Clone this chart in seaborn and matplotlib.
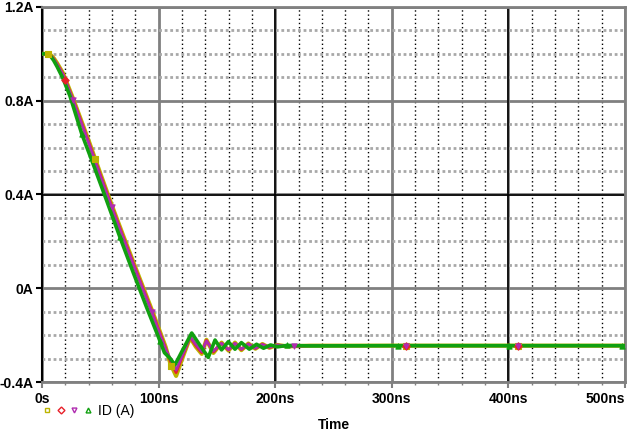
import numpy as np
import pandas as pd
import matplotlib
matplotlib.use("Agg")
import matplotlib.pyplot as plt
from matplotlib.lines import Line2D
from matplotlib.legend_handler import HandlerTuple
from matplotlib.ticker import MultipleLocator, FuncFormatter
import seaborn as sns

t_common = [0, 4, 7, 10, 13, 18, 26.6, 40, 50, 59.8, 70, 80, 94, 100, 106, 110, 115, 121,
            127, 132, 137, 141, 147, 154, 160, 165.5, 171, 177, 183, 189, 195, 202, 210,
            230, 300, 400, 500]
id_yellow = [1.0, 1.0, 0.997, 0.982, 0.96, 0.918, 0.81, 0.63, 0.49, 0.355, 0.22, 0.09, -0.09,
             -0.17, -0.25, -0.32, -0.374, -0.29, -0.21, -0.25, -0.28, -0.22, -0.276, -0.232,
             -0.266, -0.232, -0.264, -0.236, -0.258, -0.238, -0.254, -0.242, -0.248, -0.245,
             -0.245, -0.245, -0.245]
id_red = [1.0, 1.0, 0.996, 0.98, 0.957, 0.915, 0.806, 0.625, 0.485, 0.35, 0.215, 0.085, -0.095,
          -0.175, -0.255, -0.31, -0.36, -0.285, -0.208, -0.245, -0.275, -0.222, -0.272, -0.234,
          -0.264, -0.234, -0.262, -0.237, -0.257, -0.239, -0.253, -0.242, -0.248, -0.245,
          -0.245, -0.245, -0.245]
id_magenta = [1.0, 1.0, 0.995, 0.978, 0.955, 0.912, 0.803, 0.62, 0.48, 0.345, 0.21, 0.08, -0.10,
              -0.18, -0.26, -0.30, -0.349, -0.28, -0.206, -0.24, -0.27, -0.225, -0.268, -0.235,
              -0.262, -0.235, -0.26, -0.238, -0.256, -0.24, -0.252, -0.242, -0.248, -0.245,
              -0.245, -0.245, -0.245]
t_green = [0, 4, 7, 10, 13, 18, 24, 34, 45, 55, 66.9, 78, 90, 100, 105, 110, 114, 121, 128.4,
           135, 142.6, 148.4, 154, 159.8, 165.5, 171, 177.8, 184, 190, 196, 202, 210, 230,
           300, 400, 500]
id_green = [1.0, 1.0, 0.993, 0.972, 0.945, 0.895, 0.82, 0.66, 0.515, 0.38, 0.217, 0.07, -0.085,
            -0.21, -0.275, -0.30, -0.327, -0.26, -0.191, -0.24, -0.295, -0.221, -0.263, -0.228,
            -0.26, -0.232, -0.26, -0.239, -0.256, -0.242, -0.25, -0.244, -0.246, -0.245,
            -0.245, -0.245]

# positions des marqueurs (ns)
mk_yellow = [5, 45.5, 111, 312, 408.5]
mk_red = [20, 312.5, 408.5]
mk_magenta = [26.6, 59.8, 94, 216, 312, 408]
mk_green = [34, 66.9, 101, 210, 305.6, 400.8, 497]

series = [
    ("yellow", t_common, id_yellow, mk_yellow, "#bcb400", "s", 3.0),
    ("red", t_common, id_red, mk_red, "#e8202a", "D", 2.0),
    ("magenta", t_common, id_magenta, mk_magenta, "#b02cb0", "v", 2.0),
    ("green", t_green, id_green, mk_green, "#10a010", "^", 2.6),
]

fig = plt.figure(figsize=(6.29, 4.33), dpi=100)
ax = fig.add_axes([42 / 629, 1 - 382 / 433, 583 / 629, 375 / 433])

for name, t, v, mk, col, m, lw in series:
    df = pd.DataFrame({"t": t, "v": v})
    sns.lineplot(data=df, x="t", y="v", ax=ax, color=col, linewidth=lw,
                 estimator=None, sort=False, zorder=3)
    dm = pd.DataFrame({"t": mk, "v": np.interp(mk, t, v)})
    sns.scatterplot(data=dm, x="t", y="v", ax=ax, color=col, marker=m, s=14,
                    edgecolor=col, linewidth=0.8, zorder=4)

ax.set_xlim(0, 500)
ax.set_ylim(-0.4, 1.2)
ax.xaxis.set_major_locator(MultipleLocator(100))
ax.xaxis.set_minor_locator(MultipleLocator(20))
ax.yaxis.set_major_locator(MultipleLocator(0.4))
ax.yaxis.set_minor_locator(MultipleLocator(0.1))
ax.xaxis.set_major_formatter(FuncFormatter(lambda x, p: "0s" if abs(x) < 1e-9 else f"{int(round(x))}ns"))
ax.yaxis.set_major_formatter(FuncFormatter(lambda y, p: "0A" if abs(y) < 1e-9 else f"{y:.1f}A"))

# grille façon PSpice
ax.xaxis.grid(True, which="minor", color="black", linestyle=(0, (1, 2)), linewidth=1)
ax.yaxis.grid(True, which="minor", color="#a8a8a8", linestyle=(0, (1, 1)), linewidth=2)
ax.xaxis.grid(True, which="major", color="#808080", linewidth=2)
ax.yaxis.grid(True, which="major", color="#808080", linewidth=2)
ax.set_axisbelow(True)
for x in (200, 400):
    ax.axvline(x, color="black", linewidth=1.2, zorder=1)
ax.axhline(0.4, color="black", linewidth=1.2, zorder=1)

for s in ("top", "right", "bottom"):
    ax.spines[s].set_color("#808080")
    ax.spines[s].set_linewidth(2)
ax.spines["left"].set_color("black")
ax.spines["left"].set_linewidth(1.5)

font = {"family": "Liberation Sans", "weight": "bold", "size": 10}
ax.tick_params(axis="x", which="major", length=4, width=1.5, color="#808080", pad=3)
ax.tick_params(axis="x", which="minor", length=2.5, width=1, color="#808080")
ax.tick_params(axis="y", which="major", length=4, width=1.5, color="black", pad=2)
ax.tick_params(axis="y", which="minor", length=0)
fig.canvas.draw()
for lab in ax.get_xticklabels() + ax.get_yticklabels():
    lab.set_fontfamily("Liberation Sans")
    lab.set_fontweight("bold")
    lab.set_fontsize(10)
for tick in ax.xaxis.get_major_ticks():
    if abs(tick.get_loc() - 500) < 1e-6:
        tick.label1.set_horizontalalignment("right")

ax.set_xlabel("Time", fontdict=font)
ax.xaxis.set_label_coords(0.5, -0.095)
ax.set_ylabel("")

# légende: 4 marqueurs + "ID (A)"
handles = tuple(Line2D([], [], linestyle="none", marker=m, color=col, markerfacecolor="none",
                       markersize=3.5, markeredgewidth=1)
                for name, t, v, mk, col, m, lw in series)
fig.legend([handles], ["ID (A)"], handler_map={tuple: HandlerTuple(ndivide=None, pad=0.3)},
           loc="center left", bbox_to_anchor=(33 / 629, 1 - 411 / 433), frameon=False,
           handlelength=3.6, handletextpad=0.4, borderpad=0.2,
           prop={"family": "Liberation Sans", "size": 10})

fig.savefig("out.png", dpi=100)
